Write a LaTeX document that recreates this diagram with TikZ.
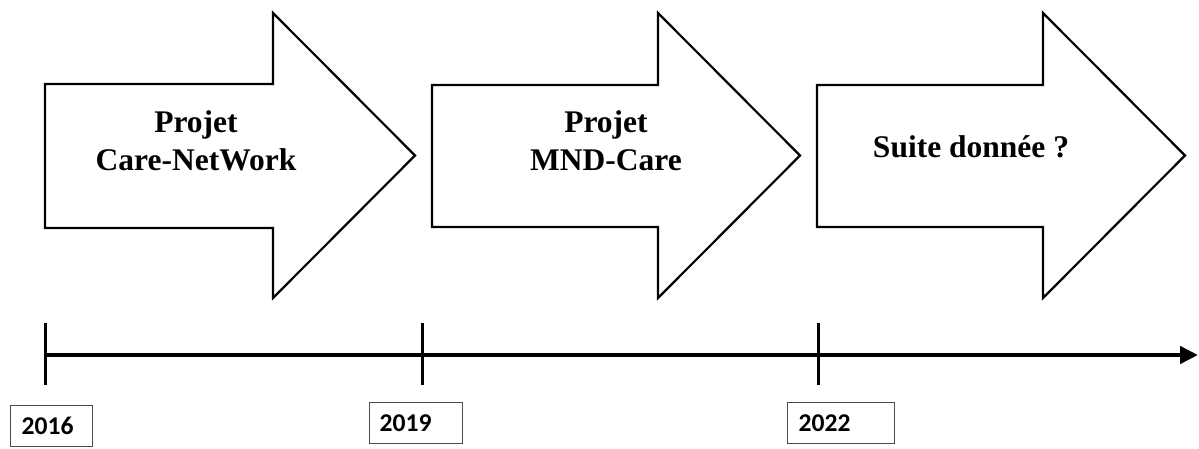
\documentclass[tikz,border=0pt]{standalone}
\usepackage{fontspec}
\setmainfont{Liberation Serif}
\newfontfamily\yearfont{Carlito}
\usetikzlibrary{arrows.meta}
\begin{document}
\begin{tikzpicture}[x=1pt,y=-1pt,
  bigarrow/.style={draw=black,line width=2.2pt,fill=white,line join=miter},
  arrowlabel/.style={font=\fontsize{31.5}{38}\selectfont\bfseries,align=center,anchor=base,inner sep=0pt},
  yearbox/.style={draw=black!70,line width=1.2pt,anchor=north west,align=left,
    font=\yearfont\fontsize{25.6}{30}\selectfont\bfseries,minimum height=41pt,inner ysep=0pt},
  tickline/.style={line width=3pt},
  axisline/.style={line width=4.5pt,-{Triangle[length=18pt,width=17pt]}}]
\useasboundingbox (0,0) rectangle (1199,448);
% block arrows
\draw[bigarrow] (45,84) -- (273,84) -- (273,13) -- (415,155.5) -- (273,298) -- (273,228) -- (45,228) -- cycle;
\draw[bigarrow] (432,85) -- (658,85) -- (658,13) -- (800,155.5) -- (658,298) -- (658,227) -- (432,227) -- cycle;
\draw[bigarrow] (817,85) -- (1043,85) -- (1043,13) -- (1185,155.5) -- (1043,298) -- (1043,227) -- (817,227) -- cycle;
\node[arrowlabel] (l1) at (196,170) {Projet\\Care-NetWork};
\node[arrowlabel] (l2) at (606,170) {Projet\\MND-Care};
\node[arrowlabel] (l3) at (971,157) {Suite donnée ?};
% timeline
\coordinate (a0) at (45,355);
\coordinate (aend) at (1198,355);
\coordinate (t1) at (45,355);
\coordinate (t2) at (422,355);
\coordinate (t3) at (818,355);
\draw[axisline] (a0) -- (aend);
\foreach \t in {t1,t2,t3}{
  \draw[tickline] ([yshift=-30pt]\t.center) -- ([yshift=32pt]\t.center);
}
\node[yearbox,inner xsep=11pt,text width=60pt] (y1) at (10,405) {2016};
\node[yearbox,inner xsep=10pt,text width=73pt] (y2) at (369,402) {2019};
\node[yearbox,inner xsep=11pt,text width=85pt] (y3) at (787,402) {2022};
\end{tikzpicture}
\end{document}
